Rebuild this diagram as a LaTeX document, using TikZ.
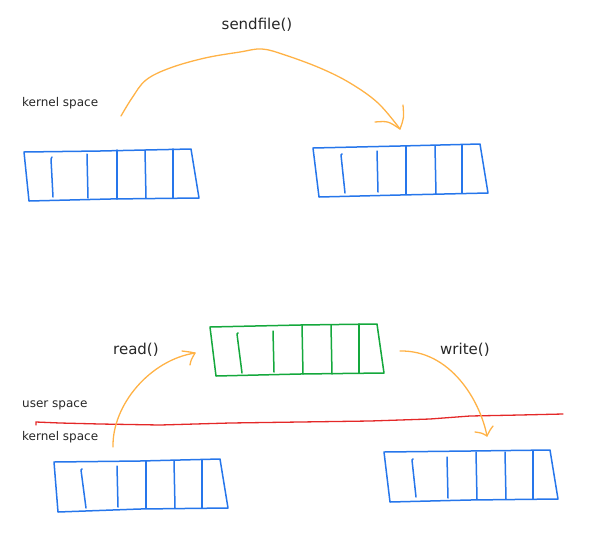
\documentclass[tikz,border=0pt]{standalone}
\usepackage{fontspec}
\setmainfont{DejaVu Sans}
\definecolor{bufblue}{RGB}{38,118,235}
\definecolor{bufgreen}{RGB}{20,168,60}
\definecolor{linered}{RGB}{228,40,40}
\definecolor{arcorange}{RGB}{255,178,70}
\tikzset{
  buf/.style={line width=1.5pt, line join=round, line cap=round},
  arc/.style={arcorange, line width=1.3pt, line cap=round, line join=round},
  biglbl/.style={font=\fontsize{15}{18}\selectfont, inner sep=0pt, text=black!85},
  smalllbl/.style={font=\fontsize{12}{14}\selectfont, inner sep=0pt, anchor=west, text=black!85}
}
\begin{document}
\begin{tikzpicture}[x=1pt,y=-1pt]
\useasboundingbox (0,0) rectangle (600,550);
% ---------- top-left buffer
\begin{scope}[bufblue,buf]
\draw (24,152) -- (100,151) -- (191,149) -- (199,198) -- (110,199) -- (29,201) -- cycle;
\draw (52,157) -- (51,159) -- (53,197);
\draw (87,154) -- (87,155) -- (88,198);
\draw (117,150) -- (117,199);
\draw (145,150) -- (146,198);
\draw (173,149) -- (173,198);
\end{scope}
% ---------- top-right buffer
\begin{scope}[bufblue,buf]
\draw (313,148) -- (400,146) -- (480,144) -- (488,193) -- (400,195) -- (319,197) -- cycle;
\draw (342,154) -- (341,155) -- (345,193);
\draw (377,151) -- (378,192);
\draw (406,146) -- (406,194);
\draw (435,146) -- (436,194);
\draw (462,145) -- (462,193);
\end{scope}
% ---------- green user buffer
\begin{scope}[bufgreen,buf]
\draw (210,327) -- (300,325) -- (377,324) -- (384,373) -- (300,374) -- (216,376) -- cycle;
\draw (238,333) -- (237,334) -- (242,373);
\draw (273,331) -- (274,372);
\draw (302,325) -- (303,374);
\draw (331,325) -- (332,374);
\draw (359,324) -- (359,373);
\end{scope}
% ---------- bottom-left buffer
\begin{scope}[bufblue,buf]
\draw (54,462) -- (140,461) -- (220,459) -- (228,508) -- (140,509) -- (58,512) -- cycle;
\draw (82,469) -- (81,470) -- (86,508);
\draw (117,466) -- (118,507);
\draw (146,461) -- (146,508);
\draw (174,461) -- (175,508);
\draw (202,460) -- (202,508);
\end{scope}
% ---------- bottom-right buffer
\begin{scope}[bufblue,buf]
\draw (384,452) -- (470,451) -- (550,450) -- (558,499) -- (470,500) -- (390,502) -- cycle;
\draw (413,459) -- (412,460) -- (416,497);
\draw (447,457) -- (448,498);
\draw (476,452) -- (477,499);
\draw (505,452) -- (506,499);
\draw (533,451) -- (533,499);
\end{scope}
% ---------- red user/kernel boundary
\draw[linered, line width=1.3pt, line cap=round]
  (36,425) -- (36,422) -- (60,423) -- (100,424) -- (160,425) -- (230,423) -- (300,422)
  -- (370,421) -- (430,419) -- (470,416) -- (520,415) -- (563,414);
% ---------- labels
\node[biglbl] (lsend) at (257,25) {sendfile()};
\node[smalllbl] (lk1) at (22,103) {kernel space};
\node[biglbl, anchor=west] (lread) at (113,350) {read()};
\node[biglbl, anchor=west] (lwrite) at (440,350) {write()};
\node[smalllbl] (lus) at (22,405) {user space};
\node[smalllbl] (lk2) at (22,437) {kernel space};
% ---------- arrows
\coordinate (s0) at (121,116);
\coordinate (s1) at (400,129);
\draw[arc] plot[smooth, tension=0.6] coordinates {(s0) (132,98) (146,80) (170,68) (205,58) (240,52) (262,49) (285,55) (320,68) (350,83) (378,103) (s1)};
\draw[arc] (403,105) .. controls (404,118) .. (s1) .. controls (388,121) .. (375,122);
\coordinate (r0) at (113,447);
\coordinate (r1) at (195,353);
\draw[arc] (r0) .. controls (112,405) and (150,360) .. (r1);
\draw[arc] (182,351) .. controls (190,352) .. (r1) .. controls (191,360) .. (190,365);
\coordinate (w0) at (400,351);
\coordinate (w1) at (487,436);
\draw[arc] (w0) .. controls (450,350) and (480,400) .. (w1);
\draw[arc] (475,432) .. controls (482,433) .. (w1) .. controls (490,430) .. (493,426);
\end{tikzpicture}
\end{document}
